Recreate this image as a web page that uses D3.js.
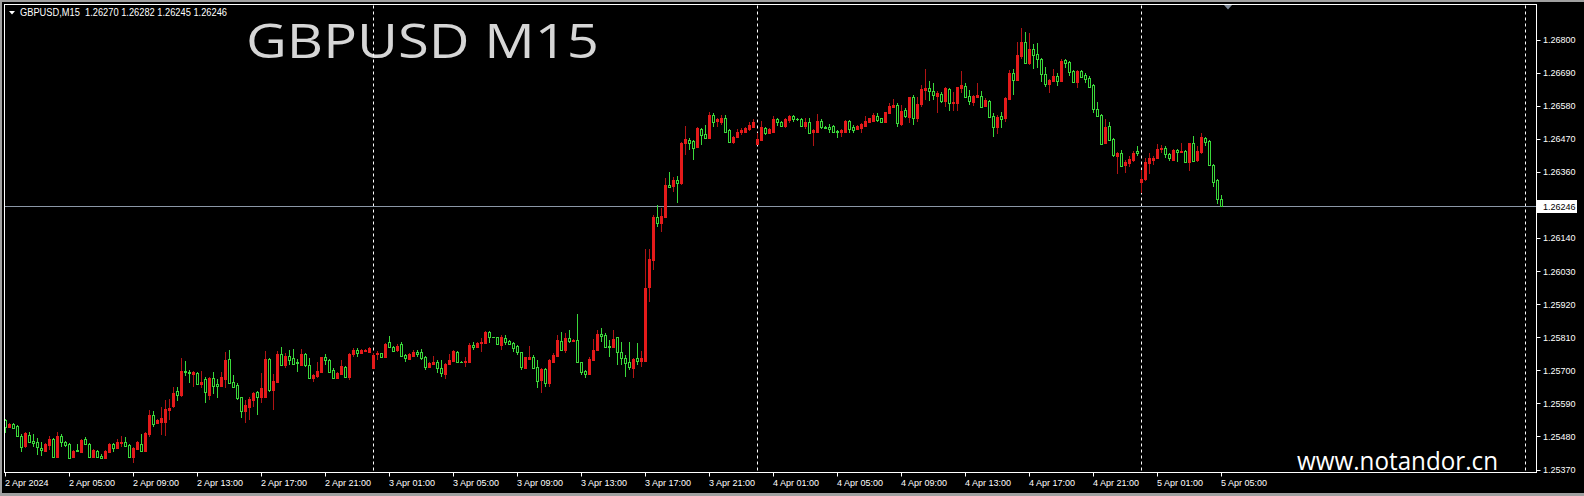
<!DOCTYPE html>
<html><head><meta charset="utf-8">
<script src="https://cdn.jsdelivr.net/npm/d3@7/dist/d3.min.js"></script>
<style>
html,body{margin:0;padding:0;background:#000;overflow:hidden;}
svg{display:block;}
text{white-space:pre;}
</style></head><body>
<svg id="chart" width="1584" height="496"></svg>
<script>
// ---------------- DATA ----------------
const headerText = "GBPUSD,M15  1.26270 1.26282 1.26245 1.26246";
const titleText = "GBPUSD M15";
const watermark = "www.notandor.cn";
const firstBarTime = new Date(2024, 3, 2, 1, 0);   // 2 Apr 2024 01:00, M15 bars
const lastPrice = 1.26246;

const openP = [
1.25535,1.25512,1.25520,1.25515,1.25483,1.25448,1.25485,1.25465,1.25463,1.25443,
1.25433,1.25451,1.25471,1.25413,1.25481,1.25460,1.25454,1.25410,1.25435,1.25428,
1.25471,1.25455,1.25413,1.25433,1.25416,1.25407,1.25429,1.25454,1.25440,1.25457,
1.25460,1.25451,1.25410,1.25438,1.25454,1.25432,1.25488,1.25551,1.25524,1.25529,
1.25529,1.25568,1.25582,1.25632,1.25618,1.25699,1.25695,1.25688,1.25692,1.25654,
1.25670,1.25618,1.25673,1.25653,1.25648,1.25670,1.25738,1.25662,1.25651,1.25610,
1.25565,1.25579,1.25601,1.25627,1.25612,1.25612,1.25737,1.25634,1.25662,1.25754,
1.25718,1.25747,1.25740,1.25729,1.25718,1.25754,1.25718,1.25675,1.25681,1.25695,
1.25743,1.25734,1.25701,1.25673,1.25688,1.25712,1.25679,1.25754,1.25767,1.25756,
1.25765,1.25762,1.25707,1.25754,1.25756,1.25745,1.25793,1.25778,1.25767,1.25787,
1.25751,1.25736,1.25747,1.25762,1.25762,1.25743,1.25712,1.25720,1.25729,1.25707,
1.25688,1.25720,1.25731,1.25762,1.25729,1.25729,1.25729,1.25784,1.25776,1.25790,
1.25790,1.25828,1.25810,1.25810,1.25784,1.25806,1.25797,1.25790,1.25781,1.25760,
1.25707,1.25736,1.25743,1.25712,1.25668,1.25703,1.25657,1.25729,1.25748,1.25797,
1.25769,1.25806,1.25799,1.25801,1.25726,1.25699,1.25688,1.25734,1.25767,1.25821,
1.25817,1.25782,1.25778,1.25810,1.25760,1.25740,1.25729,1.25707,1.25740,1.25732,
1.25731,1.25978,1.26067,1.26211,1.26191,1.26211,1.26316,1.26313,1.26333,1.26322,
1.26455,1.26466,1.26463,1.26444,1.26502,1.26485,1.26471,1.26549,1.26529,1.26524,
1.26538,1.26499,1.26460,1.26475,1.26491,1.26491,1.26501,1.26510,1.26453,1.26466,
1.26505,1.26488,1.26494,1.26536,1.26527,1.26513,1.26533,1.26546,1.26536,1.26536,
1.26512,1.26527,1.26493,1.26493,1.26529,1.26508,1.26508,1.26512,1.26497,1.26491,
1.26493,1.26529,1.26508,1.26502,1.26507,1.26512,1.26524,1.26530,1.26546,1.26538,
1.26527,1.26557,1.26574,1.26582,1.26519,1.26565,1.26543,1.26608,1.26538,1.26585,
1.26632,1.26640,1.26629,1.26613,1.26619,1.26597,1.26634,1.26588,1.26588,1.26640,
1.26646,1.26612,1.26593,1.26610,1.26612,1.26579,1.26597,1.26546,1.26510,1.26546,
1.26540,1.26602,1.26688,1.26665,1.26746,1.26791,1.26723,1.26769,1.26752,1.26734,
1.26684,1.26652,1.26663,1.26679,1.26663,1.26732,1.26724,1.26695,1.26660,1.26695,
1.26682,1.26673,1.26649,1.26568,1.26549,1.26455,1.26512,1.26469,1.26413,1.26424,
1.26383,1.26388,1.26399,1.26429,1.26325,1.26335,1.26388,1.26399,1.26405,1.26437,
1.26440,1.26419,1.26399,1.26433,1.26427,1.26430,1.26394,1.26455,1.26399,1.26427,
1.26474,1.26464,1.26383,1.26333,1.26270
];
const highP = [
1.25538,1.25524,1.25524,1.25518,1.25487,1.25496,1.25494,1.25487,1.25474,1.25463,
1.25459,1.25483,1.25476,1.25494,1.25487,1.25465,1.25457,1.25435,1.25454,1.25471,
1.25477,1.25457,1.25439,1.25435,1.25420,1.25435,1.25457,1.25459,1.25471,1.25483,
1.25479,1.25455,1.25446,1.25466,1.25487,1.25494,1.25568,1.25565,1.25538,1.25579,
1.25601,1.25603,1.25646,1.25646,1.25740,1.25732,1.25701,1.25699,1.25695,1.25698,
1.25679,1.25679,1.25693,1.25670,1.25693,1.25760,1.25768,1.25684,1.25657,1.25612,
1.25601,1.25612,1.25629,1.25632,1.25690,1.25764,1.25740,1.25688,1.25764,1.25778,
1.25756,1.25767,1.25771,1.25738,1.25771,1.25756,1.25740,1.25688,1.25729,1.25745,
1.25753,1.25738,1.25707,1.25695,1.25734,1.25715,1.25756,1.25775,1.25775,1.25771,
1.25772,1.25778,1.25756,1.25765,1.25759,1.25790,1.25814,1.25781,1.25786,1.25795,
1.25753,1.25756,1.25767,1.25767,1.25770,1.25747,1.25729,1.25747,1.25734,1.25734,
1.25723,1.25754,1.25767,1.25765,1.25732,1.25745,1.25792,1.25795,1.25795,1.25808,
1.25832,1.25832,1.25812,1.25812,1.25817,1.25817,1.25801,1.25793,1.25784,1.25762,
1.25745,1.25780,1.25751,1.25734,1.25707,1.25707,1.25736,1.25756,1.25817,1.25826,
1.25823,1.25834,1.25803,1.25887,1.25729,1.25701,1.25745,1.25803,1.25834,1.25840,
1.25825,1.25801,1.25834,1.25812,1.25793,1.25751,1.25793,1.25740,1.25790,1.25764,
1.26102,1.26102,1.26216,1.26250,1.26239,1.26338,1.26360,1.26342,1.26346,1.26460,
1.26512,1.26474,1.26466,1.26510,1.26505,1.26516,1.26560,1.26554,1.26538,1.26549,
1.26549,1.26501,1.26480,1.26501,1.26505,1.26510,1.26525,1.26535,1.26488,1.26529,
1.26510,1.26505,1.26544,1.26538,1.26529,1.26538,1.26549,1.26549,1.26540,1.26538,
1.26538,1.26538,1.26501,1.26552,1.26534,1.26512,1.26519,1.26516,1.26499,1.26501,
1.26532,1.26532,1.26516,1.26516,1.26521,1.26546,1.26540,1.26557,1.26554,1.26540,
1.26560,1.26588,1.26601,1.26588,1.26582,1.26571,1.26610,1.26615,1.26608,1.26649,
1.26702,1.26663,1.26657,1.26630,1.26626,1.26643,1.26638,1.26626,1.26643,1.26695,
1.26654,1.26632,1.26615,1.26656,1.26629,1.26604,1.26599,1.26557,1.26549,1.26560,
1.26610,1.26699,1.26701,1.26793,1.26837,1.26824,1.26821,1.26785,1.26787,1.26738,
1.26710,1.26669,1.26701,1.26688,1.26734,1.26735,1.26727,1.26699,1.26699,1.26699,
1.26688,1.26677,1.26652,1.26593,1.26552,1.26536,1.26524,1.26471,1.26427,1.26433,
1.26399,1.26413,1.26429,1.26446,1.26366,1.26405,1.26421,1.26413,1.26453,1.26449,
1.26446,1.26424,1.26435,1.26435,1.26457,1.26433,1.26457,1.26479,1.26446,1.26490,
1.26477,1.26466,1.26385,1.26335,1.26282
];
const lowP = [
1.25493,1.25510,1.25506,1.25479,1.25429,1.25440,1.25457,1.25446,1.25418,1.25415,
1.25429,1.25435,1.25407,1.25407,1.25444,1.25446,1.25406,1.25407,1.25428,1.25426,
1.25451,1.25409,1.25410,1.25410,1.25406,1.25405,1.25427,1.25429,1.25437,1.25446,
1.25444,1.25407,1.25393,1.25435,1.25429,1.25428,1.25479,1.25512,1.25520,1.25485,
1.25481,1.25535,1.25573,1.25598,1.25612,1.25681,1.25659,1.25643,1.25651,1.25640,
1.25592,1.25601,1.25621,1.25609,1.25646,1.25640,1.25654,1.25640,1.25601,1.25542,
1.25524,1.25535,1.25579,1.25552,1.25590,1.25610,1.25629,1.25568,1.25657,1.25714,
1.25709,1.25718,1.25718,1.25695,1.25714,1.25712,1.25670,1.25662,1.25673,1.25692,
1.25718,1.25692,1.25672,1.25670,1.25684,1.25676,1.25668,1.25745,1.25745,1.25754,
1.25762,1.25756,1.25703,1.25734,1.25743,1.25743,1.25773,1.25762,1.25762,1.25745,
1.25729,1.25734,1.25743,1.25743,1.25734,1.25701,1.25709,1.25716,1.25690,1.25676,
1.25670,1.25716,1.25727,1.25725,1.25723,1.25712,1.25727,1.25767,1.25773,1.25762,
1.25786,1.25790,1.25806,1.25784,1.25767,1.25784,1.25784,1.25762,1.25751,1.25701,
1.25703,1.25734,1.25703,1.25640,1.25623,1.25643,1.25645,1.25725,1.25745,1.25767,
1.25759,1.25790,1.25795,1.25724,1.25684,1.25673,1.25684,1.25731,1.25764,1.25795,
1.25775,1.25745,1.25775,1.25718,1.25718,1.25679,1.25701,1.25673,1.25718,1.25712,
1.25729,1.25928,1.26032,1.26178,1.26161,1.26205,1.26305,1.26294,1.26255,1.26316,
1.26416,1.26433,1.26399,1.26441,1.26449,1.26468,1.26468,1.26508,1.26510,1.26516,
1.26488,1.26455,1.26452,1.26471,1.26482,1.26488,1.26497,1.26507,1.26450,1.26463,
1.26482,1.26485,1.26491,1.26514,1.26510,1.26505,1.26522,1.26524,1.26530,1.26510,
1.26504,1.26486,1.26446,1.26491,1.26504,1.26504,1.26488,1.26490,1.26471,1.26475,
1.26491,1.26490,1.26488,1.26499,1.26490,1.26510,1.26521,1.26527,1.26527,1.26523,
1.26524,1.26554,1.26571,1.26510,1.26512,1.26538,1.26521,1.26516,1.26527,1.26577,
1.26599,1.26597,1.26599,1.26557,1.26588,1.26577,1.26563,1.26563,1.26563,1.26623,
1.26604,1.26582,1.26579,1.26608,1.26574,1.26574,1.26538,1.26477,1.26485,1.26505,
1.26524,1.26599,1.26616,1.26663,1.26735,1.26721,1.26715,1.26701,1.26704,1.26660,
1.26643,1.26623,1.26660,1.26647,1.26658,1.26704,1.26677,1.26658,1.26640,1.26671,
1.26654,1.26638,1.26557,1.26544,1.26449,1.26453,1.26463,1.26410,1.26353,1.26377,
1.26357,1.26377,1.26391,1.26413,1.26291,1.26331,1.26353,1.26383,1.26403,1.26421,
1.26405,1.26397,1.26397,1.26391,1.26425,1.26388,1.26364,1.26394,1.26391,1.26418,
1.26446,1.26379,1.26309,1.26253,1.26245
];
const closeP = [
1.25510,1.25521,1.25509,1.25483,1.25446,1.25490,1.25463,1.25459,1.25444,1.25435,
1.25455,1.25471,1.25410,1.25481,1.25463,1.25451,1.25409,1.25432,1.25432,1.25468,
1.25454,1.25413,1.25435,1.25413,1.25409,1.25432,1.25454,1.25440,1.25463,1.25463,
1.25448,1.25413,1.25443,1.25463,1.25432,1.25490,1.25551,1.25521,1.25535,1.25542,
1.25571,1.25576,1.25626,1.25618,1.25698,1.25695,1.25690,1.25693,1.25654,1.25662,
1.25627,1.25673,1.25649,1.25649,1.25679,1.25734,1.25657,1.25646,1.25607,1.25566,
1.25585,1.25605,1.25623,1.25610,1.25640,1.25737,1.25634,1.25664,1.25754,1.25718,
1.25747,1.25734,1.25721,1.25723,1.25754,1.25718,1.25675,1.25684,1.25697,1.25743,
1.25734,1.25695,1.25675,1.25692,1.25714,1.25679,1.25754,1.25767,1.25756,1.25767,
1.25769,1.25775,1.25751,1.25759,1.25745,1.25787,1.25776,1.25765,1.25782,1.25747,
1.25740,1.25753,1.25762,1.25754,1.25740,1.25712,1.25725,1.25729,1.25707,1.25690,
1.25720,1.25734,1.25764,1.25729,1.25727,1.25732,1.25784,1.25778,1.25792,1.25795,
1.25828,1.25810,1.25809,1.25786,1.25812,1.25795,1.25787,1.25775,1.25762,1.25712,
1.25743,1.25745,1.25707,1.25665,1.25703,1.25659,1.25734,1.25751,1.25801,1.25769,
1.25806,1.25798,1.25801,1.25726,1.25695,1.25688,1.25737,1.25769,1.25821,1.25815,
1.25778,1.25776,1.25803,1.25760,1.25740,1.25725,1.25712,1.25737,1.25732,1.25740,
1.25972,1.26069,1.26211,1.26191,1.26213,1.26316,1.26310,1.26333,1.26322,1.26457,
1.26468,1.26457,1.26438,1.26507,1.26482,1.26471,1.26549,1.26527,1.26535,1.26538,
1.26494,1.26460,1.26477,1.26494,1.26499,1.26507,1.26516,1.26524,1.26468,1.26510,
1.26488,1.26502,1.26536,1.26525,1.26514,1.26535,1.26544,1.26535,1.26534,1.26512,
1.26527,1.26490,1.26499,1.26530,1.26510,1.26507,1.26504,1.26493,1.26491,1.26499,
1.26529,1.26502,1.26499,1.26512,1.26519,1.26529,1.26538,1.26549,1.26532,1.26527,
1.26559,1.26580,1.26582,1.26523,1.26562,1.26547,1.26608,1.26538,1.26585,1.26634,
1.26638,1.26629,1.26615,1.26623,1.26597,1.26640,1.26588,1.26593,1.26641,1.26649,
1.26610,1.26595,1.26612,1.26615,1.26577,1.26599,1.26543,1.26510,1.26543,1.26536,
1.26607,1.26690,1.26665,1.26749,1.26791,1.26723,1.26769,1.26749,1.26734,1.26684,
1.26652,1.26665,1.26679,1.26663,1.26729,1.26721,1.26691,1.26660,1.26695,1.26674,
1.26669,1.26643,1.26568,1.26546,1.26453,1.26510,1.26466,1.26416,1.26424,1.26379,
1.26394,1.26402,1.26421,1.26424,1.26336,1.26392,1.26407,1.26407,1.26435,1.26440,
1.26418,1.26405,1.26433,1.26427,1.26430,1.26391,1.26455,1.26397,1.26429,1.26477,
1.26460,1.26383,1.26327,1.26270,1.26246
];
const priceTicks = [1.26800,1.26690,1.26580,1.26470,1.26360,1.26140,1.26030,1.25920,1.25810,1.25700,1.25590,1.25480,1.25370];
const timeTickLabels = ["2 Apr 2024","2 Apr 05:00","2 Apr 09:00","2 Apr 13:00","2 Apr 17:00","2 Apr 21:00",
  "3 Apr 01:00","3 Apr 05:00","3 Apr 09:00","3 Apr 13:00","3 Apr 17:00","3 Apr 21:00",
  "4 Apr 01:00","4 Apr 05:00","4 Apr 09:00","4 Apr 13:00","4 Apr 17:00","4 Apr 21:00",
  "5 Apr 01:00","5 Apr 05:00"];
const daySeparators = [new Date(2024,3,3,0,0), new Date(2024,3,4,0,0), new Date(2024,3,5,0,0), new Date(2024,3,6,0,0)];

// ---------------- STYLE ----------------
const W = 1584, H = 496;
const plotL = 4.5, plotR = 1536.5, plotT = 4.5, plotB = 472.5;
const colBull = "#e41a1a", colBullWick = "#b01414", colBear = "#3ad83a";
const axisFont = "'Liberation Sans', Arial, sans-serif";

const svg = d3.select("#chart");
svg.append("rect").attr("width", W).attr("height", H).attr("fill", "#000");

const bars = openP.map((o, i) => ({
  t: d3.timeMinute.offset(firstBarTime, 15 * i),
  o, h: highP[i], l: lowP[i], c: closeP[i]
}));

const x = d3.scaleTime()
  .domain([firstBarTime, bars[bars.length - 1].t])
  .range([5.3, 1221.3]);
const y = d3.scaleLinear().domain([1.25370, 1.26800]).range([469.5, 39.5]);

// window border
svg.append("rect").attr("x", 0).attr("y", 0).attr("width", W).attr("height", 2).attr("fill", "#a0a0a0");
svg.append("rect").attr("x", 0).attr("y", 493).attr("width", W).attr("height", 3).attr("fill", "#a0a0a0");
svg.append("rect").attr("x", 0).attr("y", 0).attr("width", 2).attr("height", H).attr("fill", "#a0a0a0");

// header
svg.append("path").attr("d", "M9,11 L15,11 L12,14.5 Z").attr("fill", "#fff");
svg.append("text").attr("x", 20).attr("y", 16).attr("fill", "#fff")
  .attr("font-family", axisFont).attr("font-size", 10)
  .attr("textLength", 207).attr("lengthAdjust", "spacingAndGlyphs")
  .text(headerText);

// big title
svg.append("text").attr("x", 246).attr("y", 58).attr("fill", "#d6d6d6")
  .attr("font-family", "'Open Sans','Noto Sans',sans-serif").attr("font-size", 48)
  .attr("textLength", 353).attr("lengthAdjust", "spacingAndGlyphs")
  .text(titleText);

// day separators
const clip = svg.append("defs").append("clipPath").attr("id", "plotclip")
  .append("rect").attr("x", plotL).attr("y", plotT).attr("width", plotR - plotL).attr("height", plotB - plotT);

svg.append("g").selectAll("line").data(daySeparators).join("line")
  .attr("x1", d => Math.round(x(d)) + 0.5).attr("x2", d => Math.round(x(d)) + 0.5)
  .attr("y1", plotT + 1).attr("y2", plotB)
  .attr("stroke", "#fff").attr("stroke-width", 1).attr("stroke-dasharray", "3,3");

// bid line
svg.append("line").attr("x1", plotL).attr("x2", plotR)
  .attr("y1", Math.round(y(lastPrice)) + 0.5).attr("y2", Math.round(y(lastPrice)) + 0.5)
  .attr("stroke", "#8b97a6").attr("stroke-width", 1);

// candles
const cg = svg.append("g").attr("clip-path", "url(#plotclip)").attr("shape-rendering", "crispEdges");
bars.forEach(d => {
  const cx = Math.round(x(d.t));
  const yH = Math.round(y(d.h)), yL = Math.round(y(d.l));
  const yO = Math.round(y(d.o)), yC = Math.round(y(d.c));
  const top = Math.min(yO, yC), bot = Math.max(yO, yC);
  if (d.c >= d.o) {
    cg.append("rect").attr("x", cx).attr("y", yH).attr("width", 1).attr("height", Math.max(1, yL - yH)).attr("fill", colBullWick);
    cg.append("rect").attr("x", cx - 1).attr("y", top).attr("width", 3).attr("height", Math.max(1, bot - top + 1)).attr("fill", colBull);
  } else {
    if (top > yH) cg.append("rect").attr("x", cx).attr("y", yH).attr("width", 1).attr("height", top - yH).attr("fill", colBear);
    if (yL > bot) cg.append("rect").attr("x", cx).attr("y", bot).attr("width", 1).attr("height", yL - bot).attr("fill", colBear);
    if (bot - top >= 2) {
      cg.append("rect").attr("x", cx - 0.5).attr("y", top + 0.5).attr("width", 2).attr("height", bot - top)
        .attr("fill", "#000").attr("stroke", colBear).attr("stroke-width", 1);
    } else {
      cg.append("rect").attr("x", cx - 1).attr("y", top).attr("width", 3).attr("height", bot - top + 1).attr("fill", colBear);
    }
  }
});

// shift marker
const mx = Math.round(x(bars[bars.length - 1].t)) + 7;
svg.append("path").attr("d", `M${mx - 4},5 L${mx + 4},5 L${mx},9.5 Z`).attr("fill", "#7d8896");

// plot frame
svg.append("rect").attr("x", plotL).attr("y", plotT).attr("width", plotR - plotL).attr("height", plotB - plotT)
  .attr("fill", "none").attr("stroke", "#fff").attr("stroke-width", 1);

// price axis
const yAxis = svg.append("g");
yAxis.selectAll("line").data(priceTicks).join("line")
  .attr("x1", plotR).attr("x2", plotR + 4)
  .attr("y1", d => Math.round(y(d)) + 0.5).attr("y2", d => Math.round(y(d)) + 0.5)
  .attr("stroke", "#fff");
yAxis.selectAll("text").data(priceTicks).join("text")
  .attr("x", 1543).attr("y", d => y(d) + 3.5)
  .attr("fill", "#fff").attr("font-family", axisFont).attr("font-size", 9)
  .text(d => d3.format(".5f")(d));

// last price label box
const ly = Math.round(y(lastPrice));
svg.append("rect").attr("x", 1537).attr("y", ly - 6).attr("width", 40).attr("height", 13).attr("fill", "#fff");
svg.append("text").attr("x", 1543).attr("y", ly + 4).attr("fill", "#000")
  .attr("font-family", axisFont).attr("font-size", 9).text(d3.format(".5f")(lastPrice));

// time axis
const tickTimes = timeTickLabels.map((_, k) => d3.timeHour.offset(firstBarTime, 4 * k));
const xAxis = svg.append("g");
xAxis.selectAll("line").data(tickTimes).join("line")
  .attr("x1", d => Math.round(x(d)) + 0.5).attr("x2", d => Math.round(x(d)) + 0.5)
  .attr("y1", plotB).attr("y2", plotB + 4).attr("stroke", "#fff");
xAxis.selectAll("text").data(tickTimes).join("text")
  .attr("x", d => Math.round(x(d))).attr("y", 486)
  .attr("fill", "#fff").attr("font-family", axisFont).attr("font-size", 9)
  .text((d, k) => timeTickLabels[k]);

// watermark
svg.append("text").attr("x", 1297).attr("y", 470).attr("fill", "#fff")
  .attr("font-family", "'Open Sans','Noto Sans',sans-serif").attr("font-size", 25)
  .attr("textLength", 201).attr("lengthAdjust", "spacingAndGlyphs")
  .text(watermark);
</script>
</body></html>
